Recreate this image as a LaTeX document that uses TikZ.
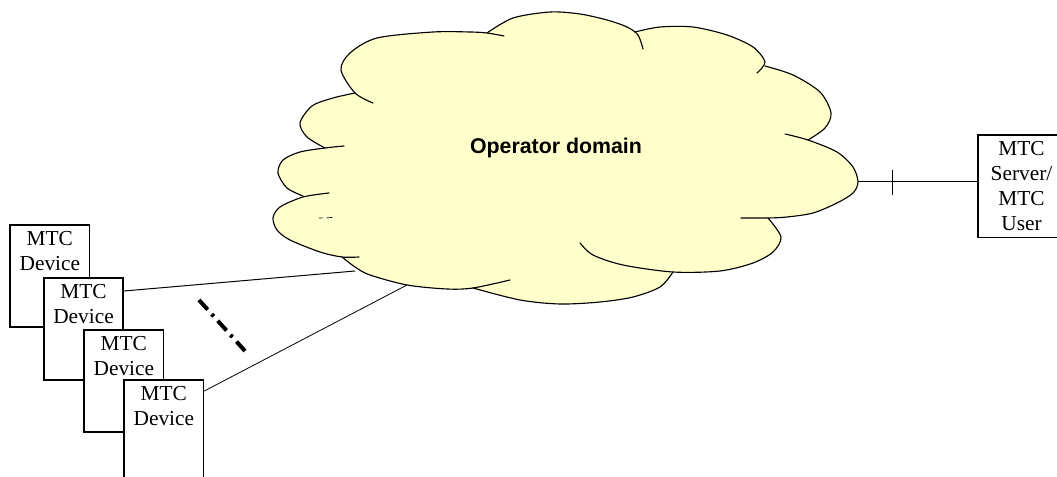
\documentclass[tikz,border=0pt]{standalone}
\usepackage{fontspec}
\setmainfont{Liberation Serif}
\newfontfamily\cloudfont{Liberation Sans}
\usetikzlibrary{calc}
\definecolor{cloudfill}{RGB}{255,255,204}
\tikzset{
  x=0.75pt,y=-0.75pt,
  devbox/.style={draw=black,line width=1.3pt,fill=white,minimum width=59.5pt,minimum height=76.5pt,inner sep=0pt,anchor=north west},
  srvbox/.style={draw=black,line width=1.3pt,fill=white,minimum width=66pt,minimum height=77pt,inner sep=0pt,anchor=north west},
  boxtext/.style={font=\fontsize{16}{18.6}\selectfont,align=center,inner sep=0pt,anchor=north},
  link/.style={draw=black,line width=0.75pt},
  outline/.style={draw=black,line width=0.85pt,line cap=round,line join=round},
}
\def\lobeA{(373,103) (355,93) (341,70) (350,53) (377,38) (433,32) (470,32) (487,33) (504,36)}
\def\lobeB{(487,33) (513,18) (550,12) (580,14) (607,20) (627,27) (638,35) (643,49)}
\def\lobeC{(635,32) (660,27) (693,27) (727,35) (753,47) (765,62) (757,73)}
\def\lobeD{(765,66) (793,75) (820,92) (831,113) (825,128) (808,140)}
\def\lobeE{(785,134) (808,140) (837,152) (853,167) (858,182) (853,193) (837,203) (813,213) (787,217) (768,218) (741,218)}
\def\lobeF{(768,218) (781,237) (773,252) (753,263) (720,271) (673,272) (623,265) (593,255) (580,243)}
\def\lobeG{(673,272) (660,287) (633,297) (600,302) (560,304) (520,300) (473,288)}
\def\lobeH{(510,280) (473,288) (447,289) (407,285) (370,275) (355,267) (342,257)}
\def\lobeI{(359,257) (342,257) (320,252) (290,240) (277,230) (273,218) (280,207) (303,197) (329,193)}
\def\lobeJ{(303,196) (287,188) (278,173) (283,160) (300,152) (325,148) (344,146)}
\def\lobeK{(325,148) (307,137) (300,123) (312,106) (333,98) (355,93)}
\begin{document}
\begin{tikzpicture}
\useasboundingbox (0,0) rectangle (1057,477);
\begin{scope}
\clip (0,0) rectangle (1057,477);
% cloud fill
\fill[cloudfill] (355,93) -- plot[smooth] coordinates {(355,93) (341,70) (350,53) (377,38) (433,32) (470,32) (487,33)}
  -- plot[smooth] coordinates {(487,33) (513,18) (550,12) (580,14) (607,20) (627,27) (635,32)}
  -- plot[smooth] coordinates {(635,32) (660,27) (693,27) (727,35) (753,47) (765,62) (765,66)}
  -- plot[smooth] coordinates {(765,66) (793,75) (820,92) (831,113) (825,128) (808,140)}
  -- plot[smooth] coordinates {(808,140) (837,152) (853,167) (858,182) (853,193) (837,203) (813,213) (787,217) (768,218)}
  -- plot[smooth] coordinates {(768,218) (781,237) (773,252) (753,263) (720,271) (673,272)}
  -- plot[smooth] coordinates {(673,272) (660,287) (633,297) (600,302) (560,304) (520,300) (473,288)}
  -- plot[smooth] coordinates {(473,288) (447,289) (407,285) (370,275) (355,267) (342,257)}
  -- plot[smooth] coordinates {(342,257) (320,252) (290,240) (277,230) (273,218) (280,207) (303,197)}
  -- plot[smooth] coordinates {(303,197) (287,188) (278,173) (283,160) (300,152) (325,148)}
  -- plot[smooth] coordinates {(325,148) (307,137) (300,123) (312,106) (333,98) (355,93)} -- cycle;
% cloud outline
\foreach \lobe in {\lobeA,\lobeB,\lobeC,\lobeD,\lobeE,\lobeF,\lobeG,\lobeH,\lobeI,\lobeJ,\lobeK}{
  \draw[outline] plot[smooth] coordinates {\lobe};
}
\draw[draw=black,line width=0.5pt,dash pattern=on 3pt off 3pt on 4pt] (319,218) -- (333,217.5);
\node[font=\cloudfont\bfseries\fontsize{16}{18}\selectfont,inner sep=0pt] (opdom) at (556,148) {Operator domain};
% anchors on the cloud
\coordinate (cloudA) at (355,271);
\coordinate (cloudB) at (407,285);
\coordinate (cloudC) at (858,182);
% boxes
\node[devbox] (dev1) at (9.3,224.3) {};
\node[boxtext] (lab1) at ($(dev1.north)+(0,7)$) {MTC\\Device};
\node[devbox] (dev2) at (43,277) {};
\node[boxtext] (lab2) at ($(dev2.north)+(0,7)$) {MTC\\Device};
\node[devbox] (dev3) at (83.3,329.3) {};
\node[boxtext] (lab3) at ($(dev3.north)+(0,7)$) {MTC\\Device};
\node[devbox] (dev4) at (123.3,379) {};
\node[boxtext] (lab4) at ($(dev4.north)+(0,7)$) {MTC\\Device};
\node[srvbox] (srv) at (977,134) {};
\node[boxtext] (srvtext) at (1021.5,141.5) {MTC\\Server/\\MTC\\User};
% connectors
\coordinate (d2port) at ($(dev2.north east)+(0,14)$);
\coordinate (d4port) at ($(dev4.north east)+(0,12)$);
\coordinate (srvport) at (srv.west |- cloudC);
\draw[link] (d2port) -- (cloudA);
\draw[link,line width=0.6pt] (d4port) -- (cloudB);
\draw[link] (cloudC) -- (srvport);
\coordinate (tickT) at (892,170);
\coordinate (tickB) at (892,195);
\draw[link] (tickT) -- (tickB);
\coordinate (dotsA) at (199,300);
\coordinate (dotsB) at (245,351);
\draw[black,line width=3pt,dash pattern=on 9.75pt off 4.5pt on 2.25pt off 4.5pt] (dotsA) -- (dotsB);
\end{scope}
\end{tikzpicture}
\end{document}
